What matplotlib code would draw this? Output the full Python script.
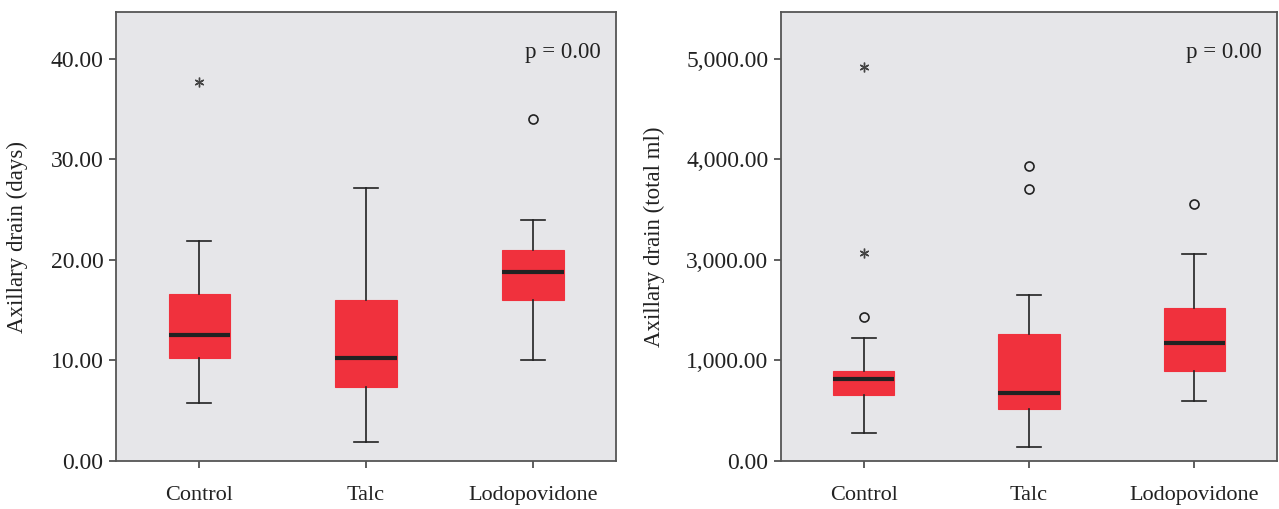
import numpy as np
import matplotlib.pyplot as plt

groups = ["Control", "Talc", "Lodopovidone"]

# left panel: axillary drain (days)
days_low = [5.8, 1.9, 10.0]
days_q1 = [10.2, 7.4, 16.0]
days_med = [12.5, 10.2, 18.8]
days_q3 = [16.6, 16.0, 21.0]
days_high = [21.9, 27.1, 24.0]
days_circles = [[], [], [34.0]]
days_stars = [[37.7], [], []]

# right panel: axillary drain (total ml), in units of the drawn tick spacing
ml_low = [278, 139, 596]
ml_q1 = [655, 516, 893]
ml_med = [814, 675, 1171]
ml_q3 = [893, 1260, 1519]
ml_high = [1221, 1648, 2055]
ml_circles = [[1429], [2700, 2928], [2551]]
ml_stars = [[2064, 3911], [], []]
ml_ticks = [0, 1000, 2000, 3000, 4000]
ml_ticklabels = ["0.00", "1,000.00", "3,000.00", "4,000.00", "5,000.00"]

plt.rcParams['font.family'] = ['Liberation Serif', 'DejaVu Serif']

bg = '#e6e6e9'
red = '#f0313d'

fig = plt.figure(figsize=(12.79, 5.09), dpi=100)
ax1 = fig.add_axes([0.0907, 0.0943, 0.391, 0.8817])
ax2 = fig.add_axes([0.6106, 0.0943, 0.3878, 0.8817])


def draw(ax, low, q1, med, q3, high, circles, stars, ylim):
    stats = []
    for i in range(3):
        stats.append(dict(whislo=low[i], q1=q1[i], med=med[i], q3=q3[i],
                          whishi=high[i], fliers=[]))
    ax.bxp(stats, positions=[1, 2, 3], widths=0.37, patch_artist=True,
           showfliers=False,
           boxprops=dict(facecolor=red, edgecolor=red, linewidth=0.8),
           medianprops=dict(color='#222222', linewidth=3, solid_capstyle='butt'),
           whiskerprops=dict(color='#222222', linewidth=1.2),
           capprops=dict(color='#222222', linewidth=1.2),
           capwidths=0.145)
    for i in range(3):
        if circles[i]:
            ax.plot([i + 1] * len(circles[i]), circles[i], linestyle='none',
                    marker='o', ms=6.5, mfc='none', mec='#222222', mew=1.2)
        if stars[i]:
            ax.plot([i + 1] * len(stars[i]), stars[i], linestyle='none',
                    marker=(6, 2, 0), ms=7, mec='#444444', mew=1.0)
    ax.set_facecolor(bg)
    ax.set_xlim(0.5, 3.5)
    ax.set_ylim(ylim)
    ax.set_xticks([1, 2, 3])
    ax.set_xticklabels(groups, fontsize=16)
    for s in ax.spines.values():
        s.set_color('#555555')
        s.set_linewidth(1.3)
    ax.tick_params(colors='#333333', labelcolor='#222222',
                   length=5, width=1.1, pad=4)
    ax.tick_params(axis='y', labelsize=17)
    ax.tick_params(axis='x', pad=13)
    ax.text(0.97, 0.911, "p = 0.00", transform=ax.transAxes, ha='right',
            va='center', fontsize=16.5, color='#222222')


draw(ax1, days_low, days_q1, days_med, days_q3, days_high,
     days_circles, days_stars, (0, 44.6))
ax1.set_yticks([0, 10, 20, 30, 40])
ax1.set_yticklabels(["0.00", "10.00", "20.00", "30.00", "40.00"])
ax1.set_ylabel("Axillary drain (days)", fontsize=16.5, color='#222222')
ax1.yaxis.set_label_coords(-0.176, 0.5)

draw(ax2, ml_low, ml_q1, ml_med, ml_q3, ml_high,
     ml_circles, ml_stars, (0, 4460))
ax2.set_yticks(ml_ticks)
ax2.set_yticklabels(ml_ticklabels)
ax2.set_ylabel("Axillary drain (total ml)", fontsize=16.5, color='#222222')
ax2.yaxis.set_label_coords(-0.234, 0.5)

fig.savefig("out.png", dpi=100)
